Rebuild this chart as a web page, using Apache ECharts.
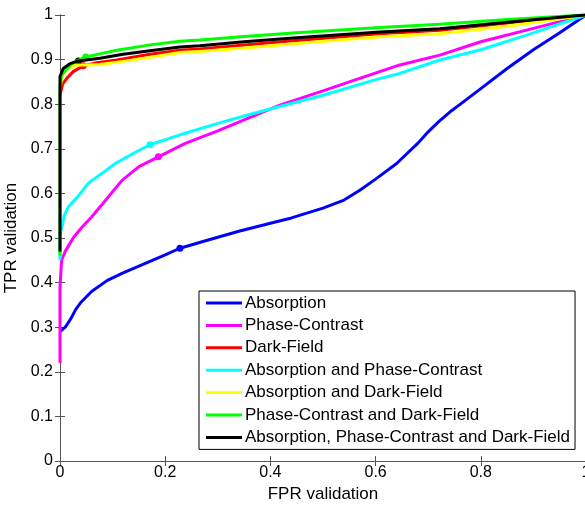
<!DOCTYPE html>
<html>
<head>
<meta charset="utf-8">
<script src="https://cdn.jsdelivr.net/npm/echarts@6/dist/echarts.min.js"></script>
<style>
html,body{margin:0;padding:0;background:#fff;}
#chart{width:585px;height:507px;}
</style>
</head>
<body>
<div id="chart"></div>
<script>
// Series names (legend order)
const seriesNames = ['Absorption', 'Phase-Contrast', 'Dark-Field', 'Absorption and Phase-Contrast',
  'Absorption and Dark-Field', 'Phase-Contrast and Dark-Field', 'Absorption, Phase-Contrast and Dark-Field'];
const seriesColors = ['#0000ff', '#ff00ff', '#ff0000', '#00ffff', '#ffff00', '#00ff00', '#000000'];

// ROC curves: [FPR, TPR]
const absorption = [[0,0.29],[0.01,0.30],[0.02,0.318],[0.03,0.34],[0.04,0.356],[0.06,0.38],[0.09,0.405],
  [0.12,0.422],[0.16,0.442],[0.2,0.462],[0.228,0.477],[0.28,0.495],[0.34,0.515],[0.4,0.533],[0.44,0.545],
  [0.5,0.567],[0.54,0.585],[0.57,0.607],[0.6,0.632],[0.64,0.667],[0.68,0.712],[0.70,0.738],[0.72,0.761],
  [0.745,0.786],[0.77,0.808],[0.8,0.835],[0.85,0.88],[0.9,0.922],[0.95,0.96],[1,1]];
const phaseContrast = [[0,0.22],[0,0.39],[0.003,0.45],[0.01,0.47],[0.025,0.5],[0.04,0.522],[0.06,0.547],
  [0.08,0.575],[0.117,0.628],[0.15,0.66],[0.187,0.682],[0.238,0.712],[0.3,0.74],[0.35,0.765],[0.418,0.798],
  [0.5,0.83],[0.55,0.85],[0.608,0.873],[0.646,0.888],[0.722,0.91],[0.8,0.94],[0.9,0.97],[1,1]];
const darkField = [[0,0.82],[0.005,0.845],[0.013,0.858],[0.025,0.873],[0.044,0.886],[0.07,0.893],
  [0.108,0.899],[0.171,0.912],[0.228,0.921],[0.266,0.924],[0.35,0.933],[0.45,0.943],[0.608,0.958],
  [0.722,0.966],[0.85,0.982],[1,1]];
const absPhase = [[0,0.45],[0,0.51],[0.003,0.52],[0.008,0.55],[0.016,0.57],[0.032,0.59],[0.054,0.623],
  [0.08,0.645],[0.105,0.667],[0.14,0.69],[0.171,0.709],[0.238,0.735],[0.3,0.757],[0.36,0.777],[0.418,0.795],
  [0.5,0.82],[0.6,0.855],[0.646,0.869],[0.722,0.899],[0.8,0.922],[0.9,0.96],[1,1]];
const absDark = [[0,0.84],[0.005,0.865],[0.013,0.878],[0.025,0.888],[0.05,0.888],[0.076,0.889],
  [0.12,0.896],[0.171,0.905],[0.228,0.916],[0.266,0.918],[0.35,0.926],[0.45,0.936],[0.608,0.951],
  [0.722,0.958],[0.85,0.975],[1,1]];
const phaseDark = [[0,0.46],[0,0.84],[0.003,0.865],[0.013,0.88],[0.025,0.893],[0.049,0.906],[0.08,0.914],
  [0.108,0.921],[0.171,0.933],[0.228,0.941],[0.266,0.944],[0.35,0.952],[0.45,0.96],[0.608,0.972],
  [0.722,0.979],[0.85,0.99],[1,1]];
const allThree = [[0,0.47],[0,0.862],[0.006,0.88],[0.019,0.891],[0.035,0.897],[0.076,0.903],[0.12,0.912],
  [0.171,0.92],[0.228,0.928],[0.266,0.931],[0.35,0.94],[0.45,0.949],[0.608,0.962],[0.722,0.969],
  [0.85,0.984],[1,1]];

// Operating points marked on each curve
const operatingPoints = [[0.228,0.477],[0.187,0.682],[0.044,0.886],[0.171,0.709],[0.025,0.888],[0.049,0.906],[0.035,0.897]];

const xTicks = [0, 0.2, 0.4, 0.6, 0.8, 1];
const yTicks = [0, 0.1, 0.2, 0.3, 0.4, 0.5, 0.6, 0.7, 0.8, 0.9, 1];

const curves = [absorption, phaseContrast, darkField, absPhase, absDark, phaseDark, allThree];

const chart = echarts.init(document.getElementById('chart'), null, {renderer: 'canvas'});
const font = "'Liberation Sans', Arial, sans-serif";
const axisColor = '#555';

const series = curves.map((c, i) => ({
  name: seriesNames[i],
  type: 'line',
  data: c,
  xAxisIndex: 0,
  yAxisIndex: 0,
  symbol: 'none',
  smooth: false,
  lineStyle: {color: seriesColors[i], width: 3},
  itemStyle: {color: seriesColors[i]},
  z: 2 + i,
  animation: false,
  markPoint: {
    symbol: 'circle',
    symbolSize: 7,
    label: {show: false},
    itemStyle: {color: seriesColors[i]},
    data: [{coord: operatingPoints[i]}],
    animation: false
  }
}));

const commonAxis = {
  type: 'value', min: 0, max: 1,
  splitLine: {show: false},
  axisLine: {show: true, lineStyle: {color: axisColor, width: 1}},
  axisTick: {show: true, inside: true, length: 5, lineStyle: {color: axisColor}},
};

chart.setOption({
  backgroundColor: '#fff',
  animation: false,
  grid: {left: 60, top: 15, width: 526, height: 446, containLabel: false, outerBoundsMode: 'none'},
  xAxis: [
    Object.assign({}, commonAxis, {
      position: 'bottom', interval: 0.2,
      axisLabel: {color: '#000', fontSize: 16, fontFamily: font, margin: 4,
        formatter: v => xTicks.includes(+v.toFixed(2)) ? String(+v.toFixed(2)) : ''},
      name: 'FPR validation', nameLocation: 'middle', nameGap: 24,
      nameTextStyle: {color: '#000', fontSize: 17, fontFamily: font}
    }),
    Object.assign({}, commonAxis, {position: 'top', interval: 0.2, axisLabel: {show: false}})
  ],
  yAxis: [
    Object.assign({}, commonAxis, {
      position: 'left', interval: 0.1,
      axisLabel: {color: '#000', fontSize: 16, fontFamily: font, margin: 7,
        formatter: v => String(+v.toFixed(2))},
      name: 'TPR validation', nameLocation: 'middle', nameGap: 34, nameRotate: 90,
      nameTextStyle: {color: '#000', fontSize: 17, fontFamily: font}
    }),
    Object.assign({}, commonAxis, {position: 'right', interval: 0.1, axisLabel: {show: false}})
  ],
  legend: {
    orient: 'vertical',
    left: 199, top: 291,
    data: seriesNames,
    icon: 'rect',
    itemWidth: 36, itemHeight: 3,
    itemGap: 4.4,
    padding: [3, 5, 3, 7],
    borderColor: '#000', borderWidth: 1,
    backgroundColor: '#fff',
    selectedMode: false,
    textStyle: {color: '#000', fontSize: 17, fontFamily: font, lineHeight: 18, padding: [0, 0, 0, -2]},
    z: 20
  },
  series: series
});
</script>
</body>
</html>
